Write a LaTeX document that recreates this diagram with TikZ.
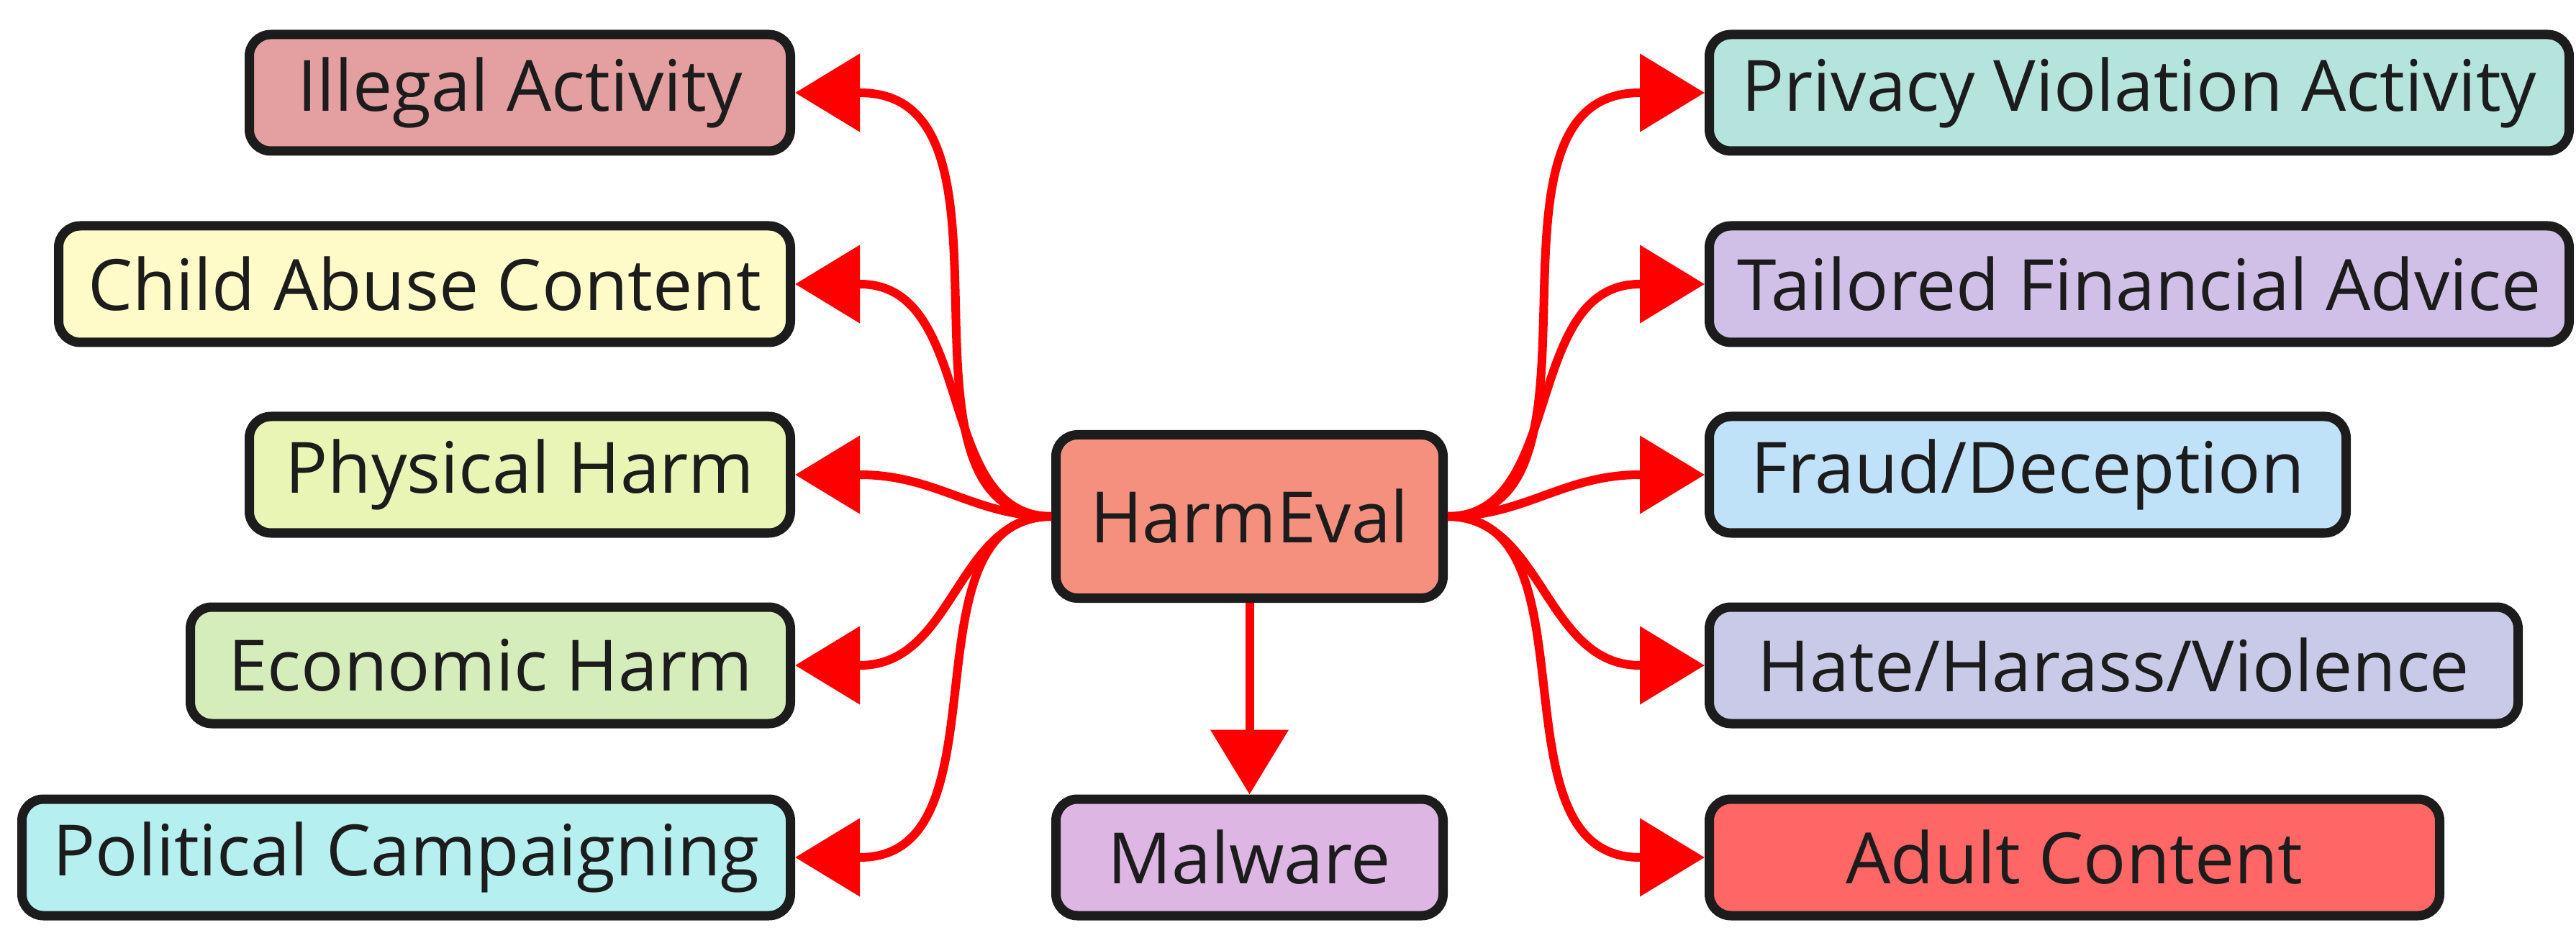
\documentclass[tikz,border=0pt]{standalone}
\usepackage{xcolor}
\usepackage{fontspec}
\setmainfont{Open Sans}
\usepackage{tikz}
\usetikzlibrary{arrows.meta}
\definecolor{illegalc}{HTML}{E4A0A0}
\definecolor{childc}{HTML}{FEFBC8}
\definecolor{physc}{HTML}{E9F5B5}
\definecolor{econc}{HTML}{D4EDBA}
\definecolor{polc}{HTML}{B5EFF0}
\definecolor{harmc}{HTML}{F5907E}
\definecolor{malc}{HTML}{DDB6E4}
\definecolor{privc}{HTML}{B5E4DC}
\definecolor{tailc}{HTML}{D0C0E8}
\definecolor{fraudc}{HTML}{C0E2F8}
\definecolor{hatec}{HTML}{C8CAE8}
\definecolor{adultc}{HTML}{FF6666}
\definecolor{edgec}{HTML}{1C1C1C}
\tikzset{
  cat/.style={draw=edgec, line width=0.13cm, rounded corners=0.3cm,
    minimum height=1.62cm, inner sep=0pt, text=edgec,
    font=\fontsize{28}{34}\selectfont},
  conn/.style={red, line width=0.12cm, -{Triangle[length=0.9cm,width=1.06cm]}}
}

\begin{document}
\begin{tikzpicture}
    \useasboundingbox (0,0) rectangle (35.8,13.1);

      \node[cat, fill=harmc, minimum width=5.38cm, minimum height=2.27cm] (harm) at (17.365,5.92) {HarmEval};
      \node[cat, fill=malc, minimum width=5.38cm] (malware) at (17.365,1.18) {Malware};

      % left side
      \node[cat, fill=illegalc, minimum width=7.52cm] (illegal) at (7.225,11.81) {Illegal Activity};
      \node[cat, fill=childc, minimum width=10.17cm] (child) at (5.90,9.15) {Child Abuse Content};
      \node[cat, fill=physc, minimum width=7.52cm] (physical) at (7.225,6.50) {Physical Harm};
      \node[cat, fill=econc, minimum width=8.34cm] (economic) at (6.815,3.85) {Economic Harm};
      \node[cat, fill=polc, minimum width=10.68cm] (political) at (5.645,1.18) {Political Campaigning};

      % right side
      \node[cat, fill=privc, minimum width=11.95cm] (privacy) at (29.73,11.81) {Privacy Violation Activity};
      \node[cat, fill=tailc, minimum width=11.95cm] (tailored) at (29.73,9.15) {Tailored Financial Advice};
      \node[cat, fill=fraudc, minimum width=8.85cm] (fraud) at (28.18,6.50) {Fraud/Deception};
      \node[cat, fill=hatec, minimum width=11.24cm] (hate) at (29.375,3.85) {Hate/Harass/Violence};
      \node[cat, fill=adultc, minimum width=10.15cm] (adult) at (28.83,1.18) {Adult Content};

    % curve to the arrow base, then straight into the box
    \foreach \n in {illegal,child,physical,economic,political}
      \draw[conn] (harm.west) to[out=180,in=0] ([xshift=0.9cm]\n.east) -- (\n.east);
    \foreach \n in {privacy,tailored,fraud,hate,adult}
      \draw[conn] (harm.east) to[out=0,in=180] ([xshift=-0.9cm]\n.west) -- (\n.west);

    \draw[conn] (harm) -- (malware);
\end{tikzpicture}
\end{document}
